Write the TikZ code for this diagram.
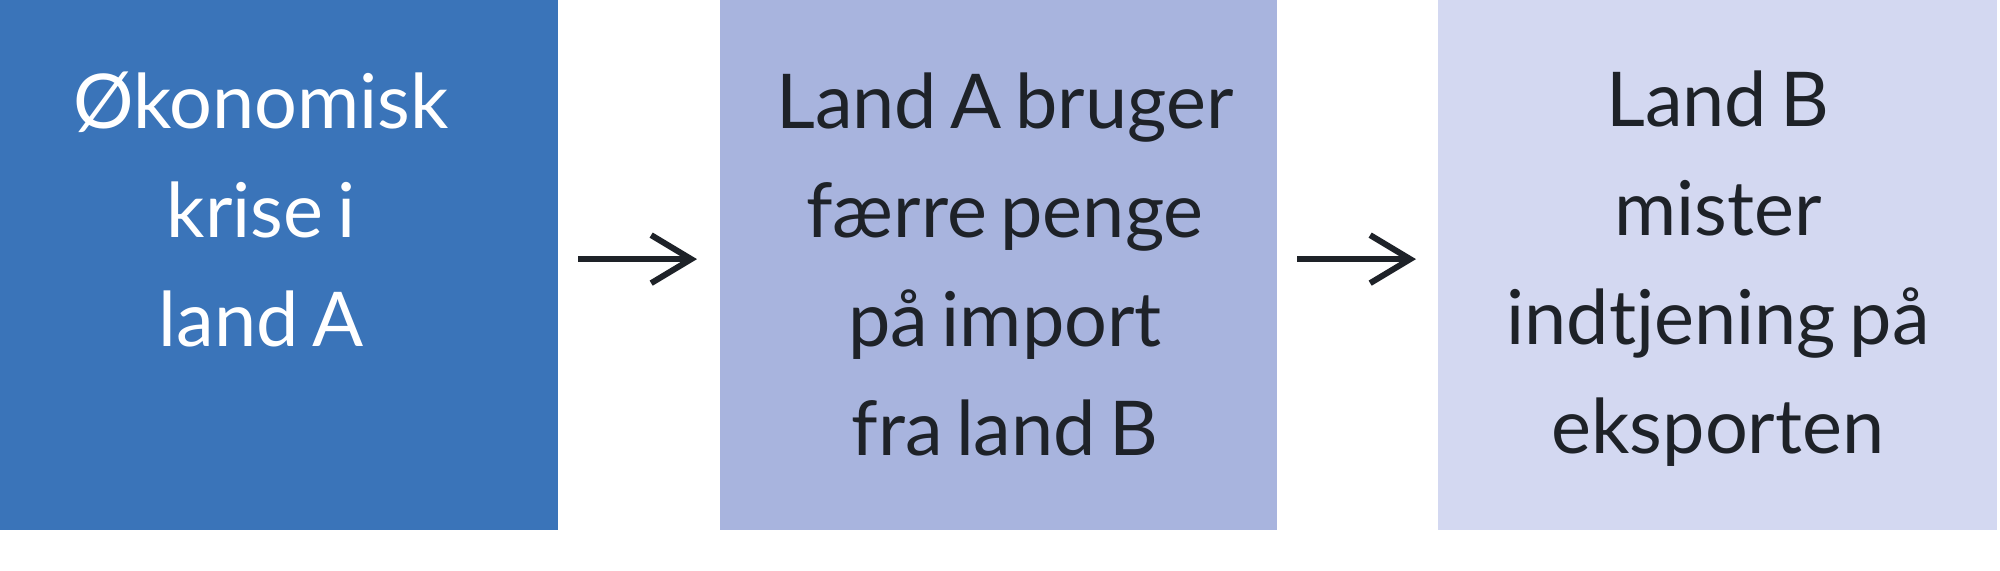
\documentclass[tikz,border=0pt]{standalone}
\usepackage{fontspec}
\setmainfont{Lato}[WordSpace=0.7]
\usetikzlibrary{arrows.meta}
\definecolor{cone}{HTML}{3A74B9}
\definecolor{ctwo}{HTML}{A8B4DE}
\definecolor{cthree}{HTML}{D3D8F1}
\definecolor{ink}{HTML}{1E2228}
\begin{document}
\begin{tikzpicture}[x=0.01cm,y=-0.01cm,
  box/.style={anchor=north west,inner sep=0pt,outer sep=0pt,draw=none},
  lbl/.style={anchor=base,inner sep=0pt,align=center,font=\fontsize{21.5}{31}\selectfont},
  arr/.style={-{Straight Barb[length=0.4cm,width=0.48cm,line width=1.7pt]},line width=1.7pt,ink}]
\useasboundingbox (0,0) rectangle (2000,571);
\fill[white] (0,0) rectangle (2000,571);
\node[box,fill=cone,minimum width=5.58cm,minimum height=5.30cm] (b1) at (0,0) {};
\node[box,fill=ctwo,minimum width=5.57cm,minimum height=5.30cm] (b2) at (720,0) {};
\node[box,fill=cthree,minimum width=5.59cm,minimum height=5.30cm] (b3) at (1438,0) {};
\node[lbl,text=white] (t1) at (261,347) {Økonomisk\\krise i\\land A};
\node[lbl,text=ink] (t2) at (1005,456) {Land A bruger\\færre penge\\på import\\fra land B};
\node[lbl,text=ink] (t3) at (1718,454) {Land B\\mister\\indtjening på\\eksporten};
\draw[arr] ([xshift=0.20cm,yshift=0.06cm]b1.east) -- ([xshift=-0.23cm,yshift=0.06cm]b2.west);
\draw[arr] ([xshift=0.20cm,yshift=0.06cm]b2.east) -- ([xshift=-0.22cm,yshift=0.06cm]b3.west);
\end{tikzpicture}
\end{document}
